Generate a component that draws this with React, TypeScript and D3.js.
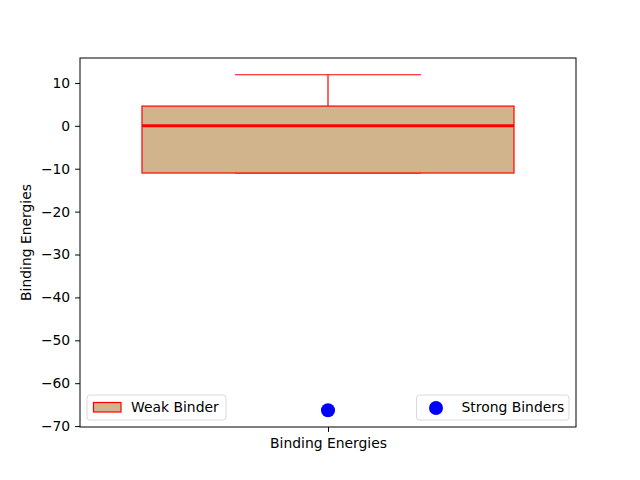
import React, { useEffect, useRef } from "react";
import * as d3 from "d3";

// box plot stats
const boxLabels = ["Binding Energies"];
const q1Values = [-11.0];
const q3Values = [4.6];
const medianValues = [0.0];
const whiskerLow = [-11.0];
const whiskerHigh = [11.9];
const strongBinders = [-66.3];
const yTicks = [10, 0, -10, -20, -30, -40, -50, -60, -70];

const App = () => {
  const svgRef = useRef<SVGSVGElement>(null);

  useEffect(() => {
    const svg = d3.select(svgRef.current);
    svg.selectAll("*").remove();

    const width = 640;
    const height = 480;
    const margin = { top: 58, right: 64, bottom: 53, left: 80 };
    const font = "DejaVu Sans, sans-serif";
    const fs = 13.9;

    const x = d3
      .scaleLinear()
      .domain([0.5, 1.5])
      .range([margin.left, width - margin.right]);

    const lo = d3.min([...strongBinders, ...whiskerLow])!;
    const hi = d3.max([...whiskerHigh, ...q3Values])!;
    const pad = (hi - lo) * 0.05;
    const y = d3
      .scaleLinear()
      .domain([lo - pad, hi + pad])
      .range([height - margin.bottom, margin.top]);

    const boxW = 0.75;
    const capW = boxW / 2;

    const g = svg.append("g");

    boxLabels.forEach((lab, i) => {
      const pos = i + 1;
      // whiskers
      g.append("line")
        .attr("x1", x(pos)).attr("x2", x(pos))
        .attr("y1", y(q3Values[i])).attr("y2", y(whiskerHigh[i]))
        .attr("stroke", "red").attr("stroke-width", 1.2);
      g.append("line")
        .attr("x1", x(pos)).attr("x2", x(pos))
        .attr("y1", y(q1Values[i])).attr("y2", y(whiskerLow[i]))
        .attr("stroke", "red").attr("stroke-width", 1.2);
      // caps
      [whiskerHigh[i], whiskerLow[i]].forEach((v) => {
        g.append("line")
          .attr("x1", x(pos - capW / 2)).attr("x2", x(pos + capW / 2))
          .attr("y1", y(v)).attr("y2", y(v))
          .attr("stroke", "red").attr("stroke-width", 1.2);
      });
      // box
      g.append("rect")
        .attr("x", x(pos - boxW / 2))
        .attr("y", y(q3Values[i]))
        .attr("width", x(pos + boxW / 2) - x(pos - boxW / 2))
        .attr("height", y(q1Values[i]) - y(q3Values[i]))
        .attr("fill", "#d2b48c")
        .attr("stroke", "red")
        .attr("stroke-width", 1.2);
      // median
      g.append("line")
        .attr("x1", x(pos - boxW / 2)).attr("x2", x(pos + boxW / 2))
        .attr("y1", y(medianValues[i])).attr("y2", y(medianValues[i]))
        .attr("stroke", "red").attr("stroke-width", 3);
      // strong binders
      g.selectAll(null)
        .data(strongBinders)
        .join("circle")
        .attr("cx", x(pos))
        .attr("cy", (d) => y(d))
        .attr("r", 7)
        .attr("fill", "blue");
    });

    // frame
    svg.append("rect")
      .attr("x", margin.left).attr("y", margin.top)
      .attr("width", width - margin.left - margin.right)
      .attr("height", height - margin.top - margin.bottom)
      .attr("fill", "none").attr("stroke", "black").attr("stroke-width", 1);

    // y axis
    const ya = svg.append("g")
      .attr("transform", `translate(${margin.left},0)`)
      .call(d3.axisLeft(y).tickValues(yTicks).tickSize(4.9).tickPadding(4.9)
        .tickFormat((d) => (+d < 0 ? "\u2212" + Math.abs(+d) : String(d))));
    ya.select(".domain").remove();
    ya.selectAll("text").style("font-family", font).style("font-size", fs + "px").attr("fill", "#000");
    ya.selectAll("line").attr("stroke", "#000");

    // x axis
    const xa = svg.append("g")
      .attr("transform", `translate(0,${height - margin.bottom})`)
      .call(d3.axisBottom(x).tickValues(boxLabels.map((_, i) => i + 1)).tickSize(4.9).tickPadding(6.5)
        .tickFormat((_, i) => boxLabels[i]));
    xa.select(".domain").remove();
    xa.selectAll("text").style("font-family", font).style("font-size", fs + "px").attr("fill", "#000");
    xa.selectAll("line").attr("stroke", "#000");

    svg.append("text")
      .attr("transform", `translate(31,${(margin.top + height - margin.bottom) / 2}) rotate(-90)`)
      .attr("text-anchor", "middle")
      .style("font-family", font).style("font-size", fs + "px")
      .text("Binding Energies");

    // legends
    const leg1 = svg.append("g");
    leg1.append("rect")
      .attr("x", 87).attr("y", 395).attr("width", 139).attr("height", 25).attr("rx", 3)
      .attr("fill", "white").attr("fill-opacity", 0.8).attr("stroke", "#d9d9d9");
    leg1.append("rect")
      .attr("x", 93.5).attr("y", 402.5).attr("width", 27.5).attr("height", 9.5)
      .attr("fill", "#d2b48c").attr("stroke", "red").attr("stroke-width", 1.2);
    leg1.append("text").attr("x", 131).attr("y", 412)
      .style("font-family", font).style("font-size", fs + "px").text("Weak Binder");

    const leg2 = svg.append("g");
    leg2.append("rect")
      .attr("x", 416.5).attr("y", 395).attr("width", 152.5).attr("height", 25).attr("rx", 3)
      .attr("fill", "white").attr("fill-opacity", 0.8).attr("stroke", "#d9d9d9");
    leg2.append("circle").attr("cx", 436).attr("cy", 408).attr("r", 7).attr("fill", "blue");
    leg2.append("text").attr("x", 461.5).attr("y", 412)
      .style("font-family", font).style("font-size", fs + "px").text("Strong Binders");
  }, []);

  return <svg ref={svgRef} width={640} height={480} style={{ display: "block", margin: -8 }} />;
};

export default App;
